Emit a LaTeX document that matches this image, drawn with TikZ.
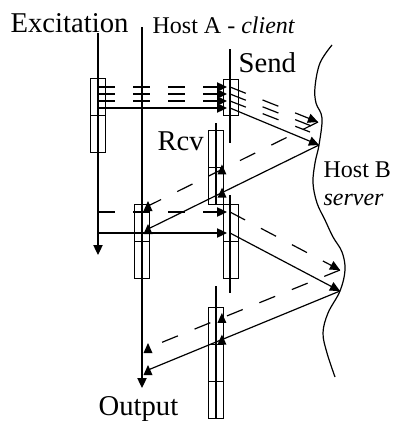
\documentclass[tikz,border=0pt]{standalone}
\usepackage{fontspec}
\setmainfont{Liberation Serif}
\usetikzlibrary{
    arrows.meta,
    calc
}
\tikzset{
    msg/.style={-{Triangle[length=7.5pt,width=7pt]}},
    dsh/.style={dash pattern=on 12.75pt off 13.5pt},
    cellbox/.style={line width=0.7pt},
    bigtext/.style={font=\fontsize{21.5}{24}\selectfont, inner sep=0pt, anchor=base west},
    smalltext/.style={font=\fontsize{18}{21}\selectfont, inner sep=0pt, anchor=base west}
}
\newcommand{\uptri}[1]{\fill (#1) ++(-4.5,5) -- ++(9,0) -- ++(-4.5,-10) -- cycle;}

\begin{document}
\begin{tikzpicture}[x=0.75pt, y=-0.75pt, line width=0.9pt]
    \useasboundingbox (0,0) rectangle (395,421);
    \node[bigtext] (exc) at (10,32) {Excitation};
    \node[smalltext] (hosta) at (152,33) {Host A - \textit{client}};
    \node[bigtext] (send) at (238,72) {Send};
    \node[bigtext] (rcv) at (157,150) {Rcv};
    \node[bigtext] (out) at (98,415) {Output};
    \node[smalltext] (hostb) at (323,177) {Host B};
    \node[smalltext] (server) at (323,205) {\textit{server}};

    \draw[cellbox] (90,78) rectangle (105,152) (90,115) -- (105,115);
    \draw[cellbox] (223,79) rectangle (238,115);
    \draw[cellbox] (208,130) rectangle (223,204) (208,167) -- (223,167);
    \draw[cellbox] (134,204) rectangle (149,278) (134,241) -- (149,241);
    \draw[cellbox] (223,204) rectangle (238,278) (223,241) -- (238,241);
    \draw[cellbox] (208,307) rectangle (223,418) (208,344) -- (223,344) (208,381) -- (223,381);

    \draw[msg] (98,33) -- (98,255);
    \draw[msg] (142,27) -- (142,388);
    \draw (230,49) -- (230,143);
    \draw (216,123) -- (216,204);
    \draw (230,195) -- (230,293);
    \draw (216,286) -- (216,418);

    \draw plot[smooth, tension=0.6] coordinates {(332,45) (320,63) (315,87) (316,103) (322,118)
        (319,145) (315,163) (313,183) (317,203) (325,220) (333,237) (342,252) (345,270)
        (340,291) (328,313) (323,333) (327,353) (335,377)};

    \coordinate (P1) at (319,145);
    \coordinate (Q1) at (318,122);
    \coordinate (P2) at (340,291);
    \coordinate (Q2) at (340,270);
    \coordinate (M1d) at (148,206);
    \coordinate (M1s) at (148,229);
    \coordinate (M2d) at (148,348);
    \coordinate (M2s) at (148,370);

    \foreach \y [count=\i] in {87,94,101} {
        \coordinate (ea\i) at (98,\y);
        \coordinate (eb\i) at (227,\y);
        \draw[dsh,msg] (ea\i) -- (eb\i);
    }
    \coordinate (ea4) at (98,108);
    \coordinate (eb4) at (227,108);
    \draw[msg] (ea4) -- (eb4);

    \coordinate (sa1) at (230,87);
    \coordinate (sa2) at (230,94);
    \coordinate (sa3) at (230,101);
    \coordinate (sb4) at (230,108);
    \coordinate (sb2) at (314,127);
    \coordinate (sb3) at (310,132);
    \draw[dsh,msg] (sa1) -- (Q1);
    \draw[dsh] (sa2) -- (sb2);
    \draw[dsh] (sa3) -- (sb3);
    \draw[msg] (sb4) -- (P1);

    \draw[dsh] (Q1) -- (M1d);
    \draw (P1) -- (M1s);
    \uptri{$(Q1)!0.565!(M1d)$}
    \uptri{$(P1)!0.567!(M1s)$}
    \uptri{M1d}
    \uptri{M1s}

    \coordinate (ec1) at (98,212);
    \coordinate (ed1) at (227,212);
    \coordinate (ec2) at (98,233);
    \coordinate (ed2) at (227,233);
    \draw[dsh,msg] (ec1) -- (ed1);
    \draw[msg] (ec2) -- (ed2);

    \coordinate (sc1) at (230,212);
    \coordinate (sc2) at (230,233);
    \draw[dsh,msg] (sc1) -- (Q2);
    \draw[msg] (sc2) -- (P2);

    \draw[dsh] (Q2) -- (M2d);
    \draw (P2) -- (M2s);
    \uptri{$(Q2)!0.615!(M2d)$}
    \uptri{$(P2)!0.615!(M2s)$}
    \uptri{M2d}
    \uptri{M2s}
\end{tikzpicture}
\end{document}
